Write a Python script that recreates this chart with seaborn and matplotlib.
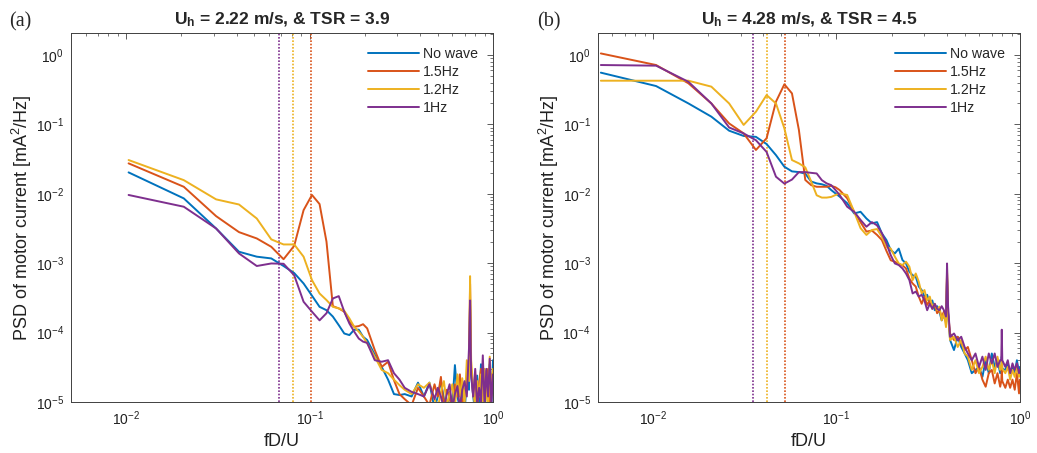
import numpy as np
import pandas as pd
import matplotlib
matplotlib.use("Agg")
import matplotlib.pyplot as plt
import seaborn as sns

# ---------------- data ----------------
cases = ["No wave", "1.5Hz", "1.2Hz", "1Hz"]
colors = ["#0072BD", "#D95319", "#EDB120", "#7E2F8E"]

# panel (a): U_h = 2.22 m/s
fa = [0.0103, 0.0206, 0.0309, 0.0412, 0.0515, 0.0618, 0.0721, 0.0824, 0.0927, 0.103,
      0.1133, 0.1236, 0.1339, 0.1442, 0.1545, 0.1648, 0.1751, 0.1854, 0.1957, 0.206,
      0.2266, 0.2472, 0.2678, 0.2884, 0.309,
      0.33, 0.36, 0.39, 0.42, 0.45, 0.48, 0.50, 0.52, 0.54, 0.56, 0.58, 0.60, 0.62,
      0.64, 0.66, 0.68, 0.70, 0.72, 0.74, 0.75, 0.76, 0.78, 0.80, 0.82, 0.84, 0.86,
      0.88, 0.90, 0.92, 0.94, 0.96, 0.98, 1.0]
a_nowave = [0.0203, 0.00857, 0.00316, 0.00146, 0.00124, 0.00117, 0.00091, 0.00072, 0.00051, 0.00034,
            0.000235, 0.00021, 0.00017, 0.000128, 9.7e-5, 9.2e-5, 1.1e-4, 1.1e-4, 8.7e-5, 7.8e-5,
            4.8e-5, 3.2e-5, 2.1e-5, 1.3e-5, 1.26e-5,
            1.3e-5, 1.2e-5, 1.9e-5, 1.2e-5, 1.9e-5, 8e-6, 1.2e-5, 2.0e-5, 1.1e-5, 7e-6, 1.4e-5, 9e-6, 3.4e-5,
            1.2e-5, 8e-6, 1.6e-5, 7e-6, 2.2e-5, 1.5e-5, 3e-4, 2.5e-5, 1.2e-5, 7e-6, 2.4e-5, 9e-6, 3.5e-5,
            1.1e-5, 7e-6, 2.8e-5, 1.2e-5, 3.5e-5, 9e-6, 4e-5]
a_15hz = [0.0274, 0.0126, 0.00476, 0.0028, 0.00227, 0.00172, 0.00114, 0.00178, 0.0058, 0.0096,
          0.0071, 0.00204, 0.00024, 0.000223, 0.0002, 0.000143, 0.000121, 0.000124, 0.000132, 0.000115,
          5.6e-5, 3.2e-5, 3.8e-5, 2.06e-5, 1.3e-5,
          1.1e-5, 9e-6, 1.6e-5, 1.2e-5, 9e-6, 1.8e-5, 1.2e-5, 2.3e-5, 8e-6, 1.5e-5, 1.2e-5, 7e-6, 1.8e-5,
          1.2e-5, 2.5e-5, 8e-6, 1.4e-5, 2e-5, 3.5e-5, 5e-4, 3e-5, 1.2e-5, 2.5e-5, 8e-6, 1.8e-5, 3e-5,
          8e-6, 2e-5, 1.2e-5, 3e-5, 8e-6, 2.5e-5, 1.5e-5]
a_12hz = [0.0306, 0.0157, 0.0083, 0.0070, 0.0044, 0.0022, 0.00186, 0.00186, 0.00124, 0.00057,
          0.000366, 0.000294, 0.000235, 0.000223, 0.000206, 0.00016, 0.000121, 0.000103, 8.7e-5, 7e-5,
          4.5e-5, 2.9e-5, 2.6e-5, 2.1e-5, 1.75e-5,
          1.5e-5, 1.3e-5, 1.8e-5, 1.6e-5, 1.9e-5, 1.1e-5, 8e-6, 1.4e-5, 2e-5, 9e-6, 1.3e-5, 1.8e-5, 8e-6,
          2.5e-5, 1.2e-5, 2.2e-5, 9e-6, 4e-5, 2e-5, 6.5e-4, 4e-5, 1.5e-5, 8e-6, 2e-5, 1.2e-5, 2.5e-5,
          8e-6, 3e-5, 1.4e-5, 8e-6, 4.5e-5, 1.2e-5, 3e-5]
a_1hz = [0.0096, 0.0065, 0.00316, 0.00138, 0.00091, 0.00099, 0.00098, 0.00067, 0.000278, 0.0002,
         0.00015, 0.00019, 0.00031, 0.000335, 0.0002, 0.000135, 0.000103, 8.2e-5, 7.4e-5, 7.1e-5,
         4e-5, 3.8e-5, 4e-5, 2.6e-5, 2.1e-5,
         1.6e-5, 1.4e-5, 1.3e-5, 1.2e-5, 1.8e-5, 1.1e-5, 1.6e-5, 1.2e-5, 8e-6, 1.3e-5, 1.8e-5, 8e-6, 1.3e-5,
         1.7e-5, 8e-6, 1.5e-5, 2e-5, 1.2e-5, 6e-5, 2.9e-4, 2.5e-5, 1.2e-5, 3e-5, 9e-6, 1.6e-5, 1e-5,
         4.7e-5, 9e-6, 3e-5, 1.2e-5, 4.2e-5, 9e-6, 2.5e-5]
a_wave_freq = [0.068, 0.0816, 0.102]   # 1Hz, 1.2Hz, 1.5Hz (fD/U)

# panel (b): U_h = 4.28 m/s
fb = [0.0052, 0.0104, 0.0156, 0.0208, 0.026, 0.0312, 0.0364, 0.0416, 0.0468, 0.052,
      0.0572, 0.0624, 0.0676, 0.0728, 0.078, 0.0832, 0.0884, 0.0936, 0.0988, 0.104,
      0.1144, 0.1248, 0.1352, 0.1456, 0.156, 0.1664, 0.1768, 0.1872, 0.1976, 0.208,
      0.2184, 0.2288, 0.2392, 0.2496, 0.26, 0.2704, 0.2808, 0.2912, 0.3016, 0.312,
      0.3224, 0.3328, 0.3432, 0.3536, 0.364, 0.3744, 0.3848, 0.3952, 0.4004, 0.4056,
      0.416, 0.4368, 0.4576, 0.4784, 0.4992,
      0.52, 0.546, 0.572, 0.598, 0.624, 0.65, 0.676, 0.702, 0.728, 0.754, 0.78,
      0.7904, 0.7956, 0.8008,
      0.832, 0.858, 0.884, 0.91, 0.936, 0.962, 0.988, 0.9984]
b_nowave = [0.555, 0.356, 0.2, 0.129, 0.081, 0.068, 0.066, 0.052, 0.036, 0.0245,
            0.021, 0.0205, 0.0195, 0.015, 0.0141, 0.0137, 0.013, 0.0113, 0.0101, 0.0091,
            7.3e-3, 5.2e-3, 5.5e-3, 4.4e-3, 3.74e-3, 3.9e-3, 2.68e-3, 2.15e-3, 1.54e-3, 1.38e-3,
            1.62e-3, 1.11e-3, 9.9e-4, 7.5e-4, 6.7e-4, 6.4e-4, 4.6e-4, 4.1e-4, 3.3e-4, 3.5e-4,
            2.6e-4, 2.9e-4, 2.1e-4, 2.4e-4, 2e-4, 1.5e-4, 1.8e-4, 1.45e-4, 6e-4, 1.9e-4,
            7.8e-5, 5.6e-5, 8.7e-5, 6.2e-5, 5e-5,
            4e-5, 2.6e-5, 2.9e-5, 3.2e-5, 2.3e-5, 4e-5, 2.6e-5, 5e-5, 3.2e-5, 4e-5, 2.6e-5,
            3e-5, 4.5e-5, 3e-5,
            2.9e-5, 3.6e-5, 2.6e-5, 3.2e-5, 2.6e-5, 4e-5, 2.6e-5, 3.2e-5]
b_15hz = [1.05, 0.715, 0.39, 0.2, 0.103, 0.074, 0.0427, 0.063, 0.212, 0.377,
          0.279, 0.083, 0.0158, 0.0133, 0.0126, 0.0126, 0.0126, 0.013, 0.0124, 0.0113,
          8.6e-3, 5.5e-3, 3.9e-3, 2.85e-3, 2.95e-3, 2.55e-3, 2.15e-3, 1.5e-3, 1.1e-3, 1.05e-3,
          9.7e-4, 9.3e-4, 8.4e-4, 6e-4, 5.1e-4, 4.6e-4, 3.3e-4, 2.6e-4, 3.3e-4, 2.5e-4,
          2.9e-4, 2.2e-4, 2.5e-4, 1.9e-4, 2.1e-4, 1.7e-4, 2e-4, 1.5e-4, 7.1e-4, 1.9e-4,
          9.7e-5, 7.8e-5, 8.7e-5, 7e-5, 5.6e-5,
          6.2e-5, 4e-5, 2.6e-5, 3.2e-5, 2.1e-5, 1.66e-5, 2.6e-5, 2.9e-5, 1.85e-5, 2.6e-5, 1.66e-5,
          2e-5, 2.9e-5, 2e-5,
          1.6e-5, 2.1e-5, 1.6e-5, 2.1e-5, 1.5e-5, 2.6e-5, 1.33e-5, 2.1e-5]
b_12hz = [0.425, 0.425, 0.425, 0.349, 0.2, 0.098, 0.152, 0.264, 0.2, 0.0875,
          0.0306, 0.0274, 0.024, 0.015, 0.0095, 0.0088, 0.0088, 0.009, 0.0096, 0.0101,
          9.6e-3, 5.5e-3, 3.2e-3, 2.55e-3, 3e-3, 3.1e-3, 2.4e-3, 1.72e-3, 1.62e-3, 1.24e-3,
          9.9e-4, 9.4e-4, 1.05e-3, 8.9e-4, 5.7e-4, 7.1e-4, 5.4e-4, 3.66e-4, 4.1e-4, 2.9e-4,
          3.3e-4, 2.36e-4, 2.6e-4, 2.1e-4, 2.36e-4, 1.5e-4, 1.9e-4, 1.2e-4, 8e-4, 1.7e-4,
          7.8e-5, 8.7e-5, 6.2e-5, 7.8e-5, 5e-5,
          4.5e-5, 2.9e-5, 4e-5, 2.6e-5, 3.2e-5, 4.5e-5, 2.9e-5, 4e-5, 2.6e-5, 4.5e-5, 2.9e-5,
          3.2e-5, 4e-5, 3e-5,
          2.6e-5, 3.2e-5, 2.1e-5, 2.9e-5, 2.3e-5, 3.2e-5, 2.3e-5, 2.9e-5]
b_1hz = [0.715, 0.7, 0.41, 0.2, 0.09, 0.074, 0.059, 0.04, 0.0176, 0.014,
         0.016, 0.0205, 0.0205, 0.02, 0.0196, 0.0157, 0.0141, 0.0133, 0.0113, 0.0096,
         6.5e-3, 5.5e-3, 4.2e-3, 3.35e-3, 3.9e-3, 3.5e-3, 2.7e-3, 1.92e-3, 1.3e-3, 9.9e-4,
         9.4e-4, 8.4e-4, 7.1e-4, 5.7e-4, 3.66e-4, 3.9e-4, 3.3e-4, 3.5e-4, 2.9e-4, 2.1e-4,
         2.6e-4, 2.2e-4, 2.6e-4, 2.2e-4, 2.1e-4, 2.4e-4, 2.1e-4, 1.7e-4, 9.9e-4, 2.4e-4,
         8.7e-5, 9.7e-5, 7.8e-5, 8.7e-5, 6.2e-5,
         5e-5, 4e-5, 5e-5, 3.2e-5, 4.5e-5, 2.9e-5, 5e-5, 3.6e-5, 5e-5, 3.2e-5, 4e-5,
         4e-5, 1.1e-4, 4e-5,
         3.2e-5, 4e-5, 2.6e-5, 3.6e-5, 2.9e-5, 3.6e-5, 2.6e-5, 2.9e-5]
b_wave_freq = [0.035, 0.042, 0.0525]

titles = [r"$\mathbf{U_h}$ = 2.22 m/s, & TSR = 3.9", r"$\mathbf{U_h}$ = 4.28 m/s, & TSR = 4.5"]
panel_tags = ["(a)", "(b)"]

# ---------------- style ----------------
sns.set_style("white")
plt.rcParams["font.family"] = ["Liberation Sans", "DejaVu Sans"]
plt.rcParams["mathtext.fontset"] = "custom"
plt.rcParams["mathtext.rm"] = "Liberation Sans"
plt.rcParams["mathtext.it"] = "Liberation Sans:italic"
plt.rcParams["mathtext.bf"] = "Liberation Sans:bold"
axc = "#404040"

fig = plt.figure(figsize=(10.37, 4.53), dpi=100)
ax_a = fig.add_axes([0.0685, 0.1126, 0.4069, 0.8146])
ax_b = fig.add_axes([0.5764, 0.1126, 0.4072, 0.8146])

panels = [
    (ax_a, fa, [a_nowave, a_15hz, a_12hz, a_1hz], a_wave_freq),
    (ax_b, fb, [b_nowave, b_15hz, b_12hz, b_1hz], b_wave_freq),
]

for i, (ax, f, ys, wf) in enumerate(panels):
    df = pd.DataFrame({
        "f": np.tile(f, len(cases)),
        "psd": np.concatenate(ys),
        "case": np.repeat(cases, len(f)),
    })
    sns.lineplot(data=df, x="f", y="psd", hue="case", hue_order=cases,
                 palette=colors, estimator=None, sort=False, lw=1.4,
                 legend=False, ax=ax)
    handles = ax.get_lines()[:4]
    # wave frequency markers: 1Hz (purple), 1.2Hz (yellow), 1.5Hz (red)
    for fv, col in zip(wf, [colors[3], colors[2], colors[1]]):
        ax.axvline(fv, color=col, ls=(0, (1, 1)), lw=1.2, zorder=1)
    ax.set_xscale("log")
    ax.set_yscale("log")
    ax.set_xlim(0.005, 1.0)
    ax.set_ylim(1e-5, 2.07)
    ax.set_xlabel("fD/U", fontsize=13, color="#202020", labelpad=4)
    ax.set_ylabel("PSD of motor current [mA$^2$/Hz]", fontsize=13, color="#202020", labelpad=1)
    ax.set_title(titles[i], fontsize=12.5, fontweight="bold", pad=6)
    ax.tick_params(which="both", direction="in", top=True, right=True,
                   colors=axc, labelcolor="#202020", labelsize=10)
    ax.tick_params(which="major", length=4.5, width=0.6, pad=5)
    ax.tick_params(which="minor", length=2.5, width=0.5)
    for sp in ax.spines.values():
        sp.set_color(axc)
        sp.set_linewidth(0.7)
    leg = ax.legend(handles, cases, loc="upper right", bbox_to_anchor=(0.985, 0.985),
                    frameon=False, fontsize=10.2, handlelength=3.6, handletextpad=0.3,
                    labelspacing=0.28, borderaxespad=0.2)
    fig.text(0.009 + 0.509 * i, 0.951, panel_tags[i], family="Liberation Serif",
             fontsize=14.5, ha="left", va="center")

fig.savefig("out.png", dpi=100)
